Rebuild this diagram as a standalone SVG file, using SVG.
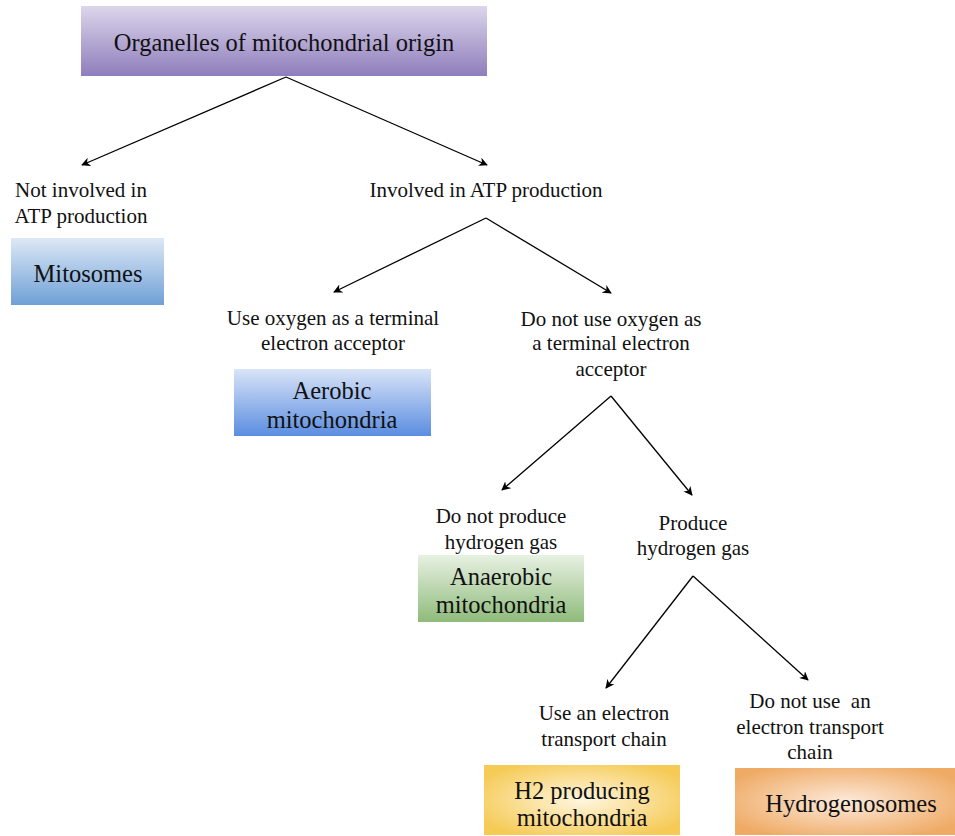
<svg xmlns="http://www.w3.org/2000/svg" width="955" height="836" viewBox="0 0 955 836">
  <style>
    .lbl { font-family: "Liberation Serif", "Times New Roman", serif; font-size: 21px; fill: #111; text-anchor: middle; }
    .box { font-family: "Liberation Serif", "Times New Roman", serif; font-size: 24.5px; fill: #111; text-anchor: middle; }
    .edge { stroke: #000; stroke-width: 1.3; fill: none; marker-end: url(#arrow); }
  </style>
  <defs>
    <marker id="arrow" viewBox="0 0 10 10" refX="9" refY="5" markerWidth="9" markerHeight="9" markerUnits="userSpaceOnUse" orient="auto">
      <path d="M0,0 L10,5 L0,10 L3,5 Z" fill="#000"/>
    </marker>
    <linearGradient id="gPurple" x1="0" y1="0" x2="0" y2="1">
      <stop offset="0" stop-color="#ddd5eb"/>
      <stop offset="1" stop-color="#8e7ebc"/>
    </linearGradient>
    <linearGradient id="gBlue1" x1="0" y1="0" x2="0" y2="1">
      <stop offset="0" stop-color="#dde8f6"/>
      <stop offset="1" stop-color="#6fa0d6"/>
    </linearGradient>
    <linearGradient id="gBlue2" x1="0" y1="0" x2="0" y2="1">
      <stop offset="0" stop-color="#d9e4f8"/>
      <stop offset="1" stop-color="#5b8de0"/>
    </linearGradient>
    <linearGradient id="gGreen" x1="0" y1="0" x2="0" y2="1">
      <stop offset="0" stop-color="#e7f1e2"/>
      <stop offset="1" stop-color="#8fbb7b"/>
    </linearGradient>
    <radialGradient id="gYellow" cx="0.5" cy="0.5" r="0.6">
      <stop offset="0" stop-color="#fff6e0"/>
      <stop offset="1" stop-color="#f5ca55"/>
    </radialGradient>
    <radialGradient id="gOrange" cx="0.5" cy="0.5" r="0.6">
      <stop offset="0" stop-color="#fdeadb"/>
      <stop offset="1" stop-color="#efab66"/>
    </radialGradient>
  </defs>

  <!-- connectors -->
  <g id="connectors">
    <line class="edge" x1="286" y1="77" x2="82" y2="165"/>
    <line class="edge" x1="286" y1="77" x2="487" y2="165"/>
    <line class="edge" x1="486" y1="218" x2="334" y2="292"/>
    <line class="edge" x1="486" y1="218" x2="611" y2="293"/>
    <line class="edge" x1="611" y1="396" x2="502" y2="490"/>
    <line class="edge" x1="611" y1="396" x2="692" y2="495"/>
    <line class="edge" x1="693" y1="576" x2="606" y2="688"/>
    <line class="edge" x1="693" y1="576" x2="808" y2="680"/>
  </g>

  <g id="root">
    <rect x="81" y="6" width="406" height="70" fill="url(#gPurple)"/>
    <text class="box" x="284" y="51">Organelles of mitochondrial origin</text>
  </g>

  <g id="not-involved">
    <text class="lbl" x="81" y="197">Not involved in</text>
    <text class="lbl" x="81" y="223">ATP production</text>
  </g>

  <g id="mitosomes">
    <rect x="11" y="238" width="153" height="67" fill="url(#gBlue1)"/>
    <text class="box" x="88" y="282">Mitosomes</text>
  </g>

  <g id="involved">
    <text class="lbl" x="486" y="197">Involved in ATP production</text>
  </g>

  <g id="use-oxygen">
    <text class="lbl" x="333" y="325">Use oxygen as a terminal</text>
    <text class="lbl" x="333" y="350">electron acceptor</text>
  </g>

  <g id="aerobic">
    <rect x="234" y="369" width="197" height="67" fill="url(#gBlue2)"/>
    <text class="box" x="332" y="399">Aerobic</text>
    <text class="box" x="332" y="428">mitochondria</text>
  </g>

  <g id="no-oxygen">
    <text class="lbl" x="611" y="326">Do not use oxygen as</text>
    <text class="lbl" x="611" y="350">a terminal electron</text>
    <text class="lbl" x="611" y="376">acceptor</text>
  </g>

  <g id="no-hydrogen">
    <text class="lbl" x="501" y="523">Do not produce</text>
    <text class="lbl" x="501" y="549">hydrogen gas</text>
  </g>

  <g id="anaerobic">
    <rect x="418" y="555" width="166" height="67" fill="url(#gGreen)"/>
    <text class="box" x="501" y="585">Anaerobic</text>
    <text class="box" x="501" y="613">mitochondria</text>
  </g>

  <g id="hydrogen">
    <text class="lbl" x="693" y="530">Produce</text>
    <text class="lbl" x="693" y="555">hydrogen gas</text>
  </g>

  <g id="use-etc">
    <text class="lbl" x="604" y="720">Use an electron</text>
    <text class="lbl" x="604" y="746">transport chain</text>
  </g>

  <g id="h2-producing">
    <rect x="484" y="765" width="196" height="70" fill="url(#gYellow)"/>
    <text class="box" x="582" y="799">H2 producing</text>
    <text class="box" x="582" y="826">mitochondria</text>
  </g>

  <g id="no-etc">
    <text class="lbl" x="810" y="708" xml:space="preserve">Do not use  an</text>
    <text class="lbl" x="810" y="734">electron transport</text>
    <text class="lbl" x="810" y="759">chain</text>
  </g>

  <g id="hydrogenosomes">
    <rect x="735" y="768" width="220" height="67" fill="url(#gOrange)"/>
    <text class="box" x="851" y="812">Hydrogenosomes</text>
  </g>
</svg>
